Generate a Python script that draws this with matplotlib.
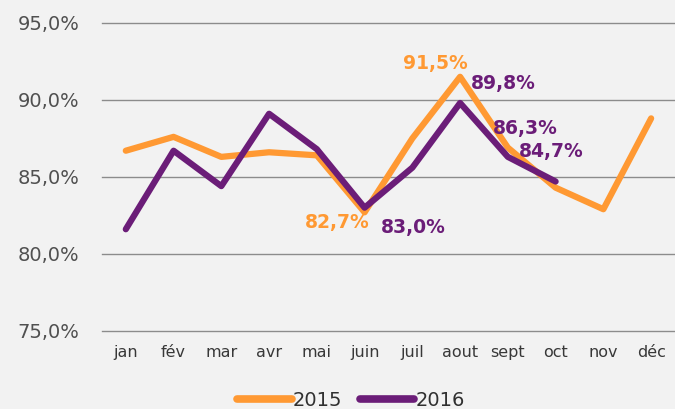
import matplotlib.pyplot as plt

months = ["jan", "fév", "mar", "avr", "mai", "juin", "juil", "aout", "sept", "oct", "nov", "déc"]
v2015 = [86.7, 87.6, 86.3, 86.6, 86.4, 82.7, 87.5, 91.5, 86.9, 84.3, 82.9, 88.8]
v2016 = [81.6, 86.7, 84.4, 89.1, 86.8, 83.0, 85.6, 89.8, 86.3, 84.7]

orange = "#FF9933"
purple = "#6B1D78"
bg = "#F2F2F2"

plt.rcParams['font.family'] = ['DejaVu Sans']

fig = plt.figure(figsize=(6.75, 4.09), dpi=100, facecolor=bg)
ax = fig.add_axes([0.151, 0.191, 0.849, 0.753], facecolor=bg)

x15 = range(len(v2015))
x16 = range(len(v2016))
ax.plot(x15, v2015, color=orange, lw=4.5, solid_capstyle="round", label="2015", zorder=3)
ax.plot(x16, v2016, color=purple, lw=4.5, solid_capstyle="round", label="2016", zorder=4)

ax.set_xlim(-0.5, 11.5)
ax.set_ylim(75, 95)
ax.set_yticks([75, 80, 85, 90, 95])
ax.set_yticklabels(["75,0%", "80,0%", "85,0%", "90,0%", "95,0%"])
ax.set_xticks(list(x15))
ax.set_xticklabels(months)
ax.grid(axis="y", color="#8C8C8C", lw=1)
for gl in ax.get_ygridlines():
    gl.set_clip_on(False)
ax.set_axisbelow(True)
for s in ax.spines.values():
    s.set_visible(False)
ax.tick_params(length=0)
ax.tick_params(axis="y", labelsize=14, labelcolor="#505050", pad=16)
ax.tick_params(axis="x", labelsize=11.5, labelcolor="#383838", pad=10)

def fmt(v):
    return ("%.1f%%" % v).replace(".", ",")

# (text, x, y, colour, offset in px, ha)
labels = [
    (fmt(v2015[5]), 5, v2015[5], orange, (5, -10), "right"),
    (fmt(v2015[7]), 7, v2015[7], orange, (-25, 13), "center"),
    (fmt(v2016[5]), 5, v2016[5], purple, (16, -20), "left"),
    (fmt(v2016[7]), 7, v2016[7], purple, (11, 19), "left"),
    (fmt(v2016[8]), 8, v2016[8], purple, (-15, 28), "left"),
    (fmt(v2016[9]), 9, v2016[9], purple, (-37, 30), "left"),
]
for txt, xi, yi, c, off, ha in labels:
    ax.annotate(txt, (xi, yi), xytext=(off[0] * 0.72, off[1] * 0.72), textcoords="offset points",
                ha=ha, va="center", color=c, fontsize=13.5, fontweight="bold", zorder=5)

leg = fig.legend(loc="lower center", bbox_to_anchor=(0.52, -0.045), ncol=2, frameon=False,
                 fontsize=14, handlelength=2.8, handletextpad=0.05, columnspacing=0.9)
for t in leg.get_texts():
    t.set_color("#303030")
for h in leg.get_lines():
    h.set_linewidth(5.5)

fig.savefig("out.png", dpi=100, facecolor=bg)
